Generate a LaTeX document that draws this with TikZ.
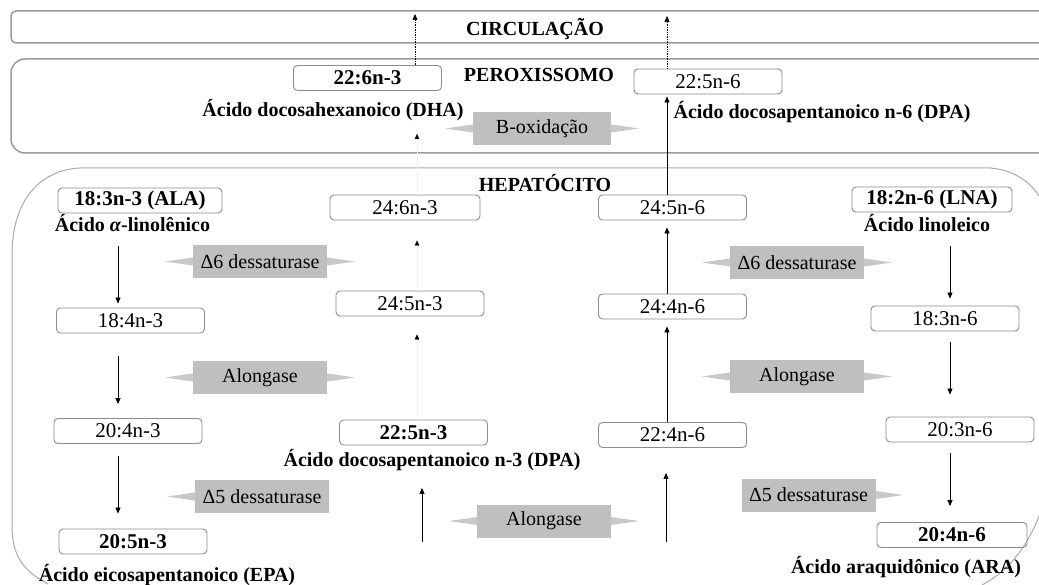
\documentclass[tikz,border=0pt]{standalone}
\usepackage{fontspec}
\setmainfont{Liberation Serif}
\usetikzlibrary{arrows.meta}
\definecolor{linegray}{HTML}{9A9A9A}
\definecolor{hepline}{HTML}{AAAAAA}
\definecolor{boxline}{HTML}{8C8C8C}
\definecolor{enzfill}{HTML}{BFBFBF}
\definecolor{wedgefill}{HTML}{C8C8C8}
\tikzset{
  cont/.style={draw=linegray, line width=1.5pt},
  hep/.style={draw=hepline, line width=1pt},
  acid/.style={draw=boxline, line width=0.9pt, rounded corners=4pt, minimum width=148pt, minimum height=25pt, inner sep=0pt, font=\fontsize{21}{24}\selectfont},
  acidbf/.style={acid, font=\fontsize{21}{24}\selectfont\bfseries},
  enz/.style={fill=enzfill, minimum width=134pt, minimum height=33pt, inner sep=0pt, font=\fontsize{20}{24}\selectfont},
  lbl/.style={inner sep=0pt, font=\fontsize{20}{24}\selectfont\bfseries},
  arr/.style={-{Triangle[length=6pt,width=5pt]}, line width=0.7pt},
  ghost/.style={draw=black!5, line width=0.2pt, -{Triangle[length=5pt,width=4.5pt,color=black]}},
  wedge/.style={fill=wedgefill}
}
\begin{document}
\begin{tikzpicture}[x=1pt,y=-1pt]
\useasboundingbox (0,0) rectangle (1039,585);
\clip (0,0) rectangle (1039,585);
% compartments
\draw[cont, rounded corners=5pt] (11,11) rectangle (1060,43);
\draw[cont, rounded corners=14pt] (11,59) rectangle (1060,153);
\draw[hep] (48,584) .. controls (22,570) and (12,555) .. (12,525) -- (12,255) .. controls (12,200) and (40,170) .. (80,168) -- (990,168) .. controls (1015,170) and (1032,182) .. (1045,205);
\draw[hep] (982,585) .. controls (1010,570) and (1030,545) .. (1045,500);
\node[lbl] (circ) at (535,29) {CIRCULAÇÃO};
\node[lbl] (perox) at (539,75) {PEROXISSOMO};
\node[lbl] (hepat) at (545,183) {HEPATÓCITO};
% peroxissomo
\node[acidbf] (n226n3) at (367.5,78) {22:6n-3};
\node[acid] (n225n6) at (708,81.5) {22:5n-6};
\node[lbl] (dha-t) at (333,110) {Ácido docosahexanoico (DHA)};
\node[lbl] (dpa6-t) at (822,112) {Ácido docosapentanoico n-6 (DPA)};
\node[enz, minimum width=138pt] (box) at (542,128.5) {B-oxidação};
% n-3
\node[acidbf, minimum width=164pt] (ala) at (140,200.5) {18:3n-3 (ALA)};
\node[lbl] (ala-t) at (132.5,223) {Ácido \textit{α}-linolênico};
\node[acid, minimum width=150pt] (n246n3) at (405,207.5) {24:6n-3};
\node[enz] (d6l) at (260,261.5) {Δ6 dessaturase};
\node[acid] (n184n3) at (130.5,320.5) {18:4n-3};
\node[acid] (n245n3) at (410,303.5) {24:5n-3};
\node[enz] (alol) at (260,377.5) {Alongase};
\node[acid] (n204n3) at (128,431) {20:4n-3};
\node[acidbf] (n225n3) at (413.5,432.5) {22:5n-3};
\node[lbl] (dpa3-t) at (432,460) {Ácido docosapentanoico n-3 (DPA)};
\node[enz] (d5l) at (262,496.5) {Δ5 dessaturase};
\node[acidbf] (n205n3) at (133,541.5) {20:5n-3};
\node[lbl] (epa-t) at (167,575) {Ácido eicosapentanoico (EPA)};
% n-6
\node[acid] (n245n6) at (672.5,207.5) {24:5n-6};
\node[acid] (n244n6) at (672.5,306.5) {24:4n-6};
\node[acid] (n224n6) at (672.5,435) {22:4n-6};
\node[acidbf, minimum width=160pt] (lna) at (932,199.5) {18:2n-6 (LNA)};
\node[lbl] (lna-t) at (927,223) {Ácido linoleico};
\node[enz] (d6r) at (797,262.5) {Δ6 dessaturase};
\node[acid] (n183n6) at (945,318.5) {18:3n-6};
\node[enz] (alor) at (797,376.5) {Alongase};
\node[acid] (n203n6) at (960,429.5) {20:3n-6};
\node[enz] (d5r) at (808.5,495) {Δ5 dessaturase};
\node[enz] (alob) at (544,521) {Alongase};
\node[acidbf, minimum width=150pt] (n204n6) at (952,535) {20:4n-6};
\node[lbl] (ara-t) at (906,567) {Ácido araquidônico (ARA)};
% enzyme wedges
\foreach \e in {box,d6l,alol,d5l,d6r,alor,alob}
  \fill[wedge] ([yshift=4pt]\e.west) -- ++(-28pt,-4pt) -- ([yshift=-4pt]\e.west) -- cycle;
\foreach \e in {box,d6l,alol,d6r,alor,alob,d5r}
  \fill[wedge] ([yshift=4pt]\e.east) -- ++(28pt,-4pt) -- ([yshift=-4pt]\e.east) -- cycle;
% arrows
\coordinate (lx) at (118,0);
\coordinate (mx) at (417,0);
\coordinate (rx) at (667,0);
\coordinate (rrx) at (950,0);
\coordinate (c1) at (415,14);
\coordinate (c2) at (667,16);
\coordinate (b1) at (422,542);
\coordinate (b2) at (666,542);
\draw[arr, shorten <=14pt, shorten >=4pt] (ala-t.south -| lx) -- (n184n3.north -| lx);
\draw[arr, shorten <=23pt, shorten >=14pt] (n184n3.south -| lx) -- (n204n3.north -| lx);
\draw[arr, shorten <=12pt, shorten >=15pt] (n204n3.south -| lx) -- (n205n3.north -| lx);
\draw[ghost, shorten >=18pt] (n225n3.north -| mx) -- (n245n3.south -| mx);
\draw[ghost, shorten >=20pt] (n245n3.north -| mx) -- (n246n3.south -| mx);
\draw[ghost, shorten >=13pt] (n246n3.north -| mx) -- (dha-t.south -| mx);
\draw[arr, shorten >=17pt] (b1) -- (dpa3-t.south -| b1);
\draw[arr, shorten >=25pt] (b2) -- (n224n6.south -| b2);
\draw[arr, shorten >=7pt] (n224n6.north -| rx) -- (n244n6.south -| rx);
\draw[arr, shorten >=7pt] (n244n6.north -| rx) -- (n245n6.south -| rx);
\draw[arr, shorten >=2pt] (n245n6.north -| rx) -- (n225n6.south -| rx);
\draw[arr, densely dotted] (n225n6.north -| c2) -- (c2);
\draw[arr, densely dotted] (n226n3.north -| c1) -- (c1);
\draw[arr, shorten <=14pt, shorten >=7pt] (lna-t.south -| rrx) -- (n183n6.north -| rrx);
\draw[arr, shorten <=11pt, shorten >=22pt] (n183n6.south -| rrx) -- (n203n6.north -| rrx);
\draw[arr, shorten <=11pt, shorten >=16pt] (n203n6.south -| rrx) -- (n204n6.north -| rrx);
\end{tikzpicture}
\end{document}
